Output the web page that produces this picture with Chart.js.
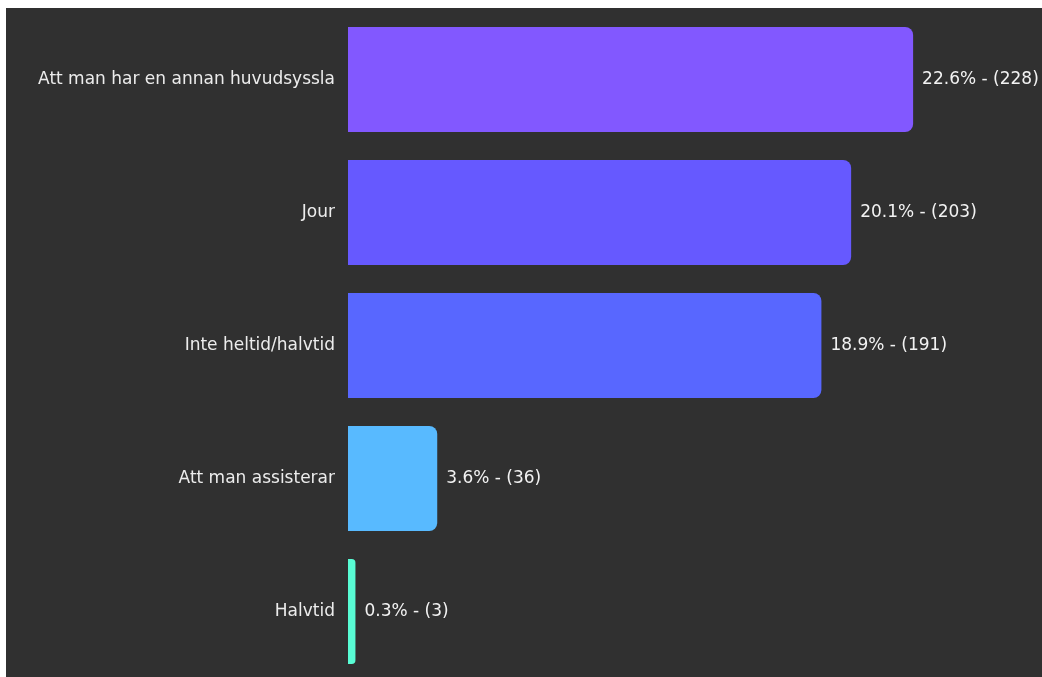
<!DOCTYPE html>
<html lang="sv">
<head>
  <meta charset="UTF-8" />
  <title>Arbetstid</title>
  <script src="https://cdn.jsdelivr.net/npm/chart.js"></script>
  <style>
    html, body {
      margin: 0;
      padding: 0;
      background: #ffffff;
      overflow: hidden;
    }

    .panel {
      position: absolute;
      left: 6px;
      top: 8px;
      width: 1036px;
      height: 670px;
      background: rgb(48, 48, 48);
    }
  </style>
</head>
<body>

  <div class="panel">
    <canvas id="chart" width="1036" height="670"></canvas>
  </div>

<script>
  const categories = [
    'Att man har en annan huvudsyssla',
    'Jour',
    'Inte heltid/halvtid',
    'Att man assisterar',
    'Halvtid'
  ];
  const counts = [228, 203, 191, 36, 3];
  const percents = [22.6, 20.1, 18.9, 3.6, 0.3];
  const barColors = ['#8258ff', '#6659ff', '#5867ff', '#58baff', '#58fcd4'];

  const FONT = '"DejaVu Sans", "Noto Sans", sans-serif';
  const FONT_SIZE = 17;

  // value text to the right of each bar
  const valueLabels = {
    id: 'valueLabels',
    afterDatasetsDraw(chart) {
      const ctx = chart.ctx;
      const meta = chart.getDatasetMeta(0);
      ctx.save();
      ctx.font = FONT_SIZE + 'px ' + FONT;
      ctx.fillStyle = '#f2f2f2';
      ctx.textAlign = 'left';
      ctx.textBaseline = 'middle';
      meta.data.forEach((bar, i) => {
        ctx.fillText(percents[i].toFixed(1) + '% - (' + counts[i] + ')', bar.x + 9, bar.y);
      });
      ctx.restore();
    }
  };

  new Chart(document.getElementById('chart'), {
    type: 'bar',
    data: {
      labels: categories,
      datasets: [{
        data: counts,
        backgroundColor: barColors,
        borderRadius: { topLeft: 0, bottomLeft: 0, topRight: 8, bottomRight: 8 },
        borderSkipped: false,
        barPercentage: 0.79,
        categoryPercentage: 1
      }]
    },
    options: {
      indexAxis: 'y',
      responsive: false,
      animation: false,
      layout: { padding: { top: 5, right: 0, bottom: 0, left: 0 } },
      plugins: {
        legend: { display: false },
        tooltip: { enabled: false }
      },
      scales: {
        x: {
          display: false,
          min: 0,
          max: 280
        },
        y: {
          afterFit(scale) {
            scale.width = 342;
            scale.paddingTop = 0;
            scale.paddingBottom = 0;
          },
          grid: { display: false, drawTicks: false },
          border: { display: false },
          ticks: {
            padding: 13,
            color: '#ececec',
            font: { family: FONT, size: FONT_SIZE }
          }
        }
      }
    },
    plugins: [valueLabels]
  });
</script>
</body>
</html>
